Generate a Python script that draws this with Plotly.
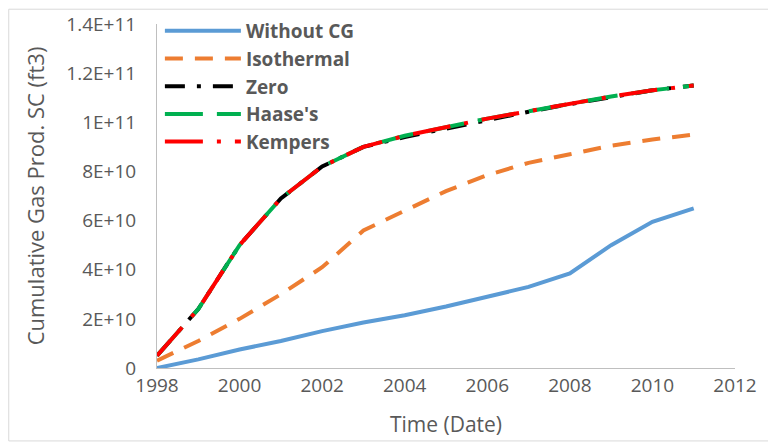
import plotly.graph_objects as go

years = [1998, 1999, 2000, 2001, 2002, 2003, 2004, 2005, 2006, 2007, 2008, 2009, 2010, 2011]

without_cg = [0, 3.5e9, 7.5e9, 1.1e10, 1.5e10, 1.85e10, 2.15e10, 2.5e10, 2.9e10, 3.3e10, 3.85e10, 5.0e10, 5.95e10, 6.5e10]
isothermal = [3e9, 1.1e10, 2.0e10, 3.0e10, 4.1e10, 5.6e10, 6.4e10, 7.2e10, 7.85e10, 8.35e10, 8.7e10, 9.05e10, 9.3e10, 9.5e10]
zero = [5e9, 2.4e10, 5.0e10, 6.9e10, 8.2e10, 9.0e10, 9.4e10, 9.75e10, 1.012e11, 1.043e11, 1.074e11, 1.104e11, 1.13e11, 1.15e11]
haase = [5e9, 2.4e10, 5.0e10, 6.9e10, 8.2e10, 9.0e10, 9.45e10, 9.8e10, 1.015e11, 1.045e11, 1.075e11, 1.105e11, 1.13e11, 1.15e11]
kempers = [5e9, 2.4e10, 5.0e10, 6.9e10, 8.2e10, 9.0e10, 9.45e10, 9.8e10, 1.015e11, 1.045e11, 1.075e11, 1.105e11, 1.13e11, 1.15e11]

x_ticks = [1998, 2000, 2002, 2004, 2006, 2008, 2010, 2012]
y_ticks = [0, 2e10, 4e10, 6e10, 8e10, 1e11, 1.2e11, 1.4e11]
y_tick_text = ["0", "2E+10", "4E+10", "6E+10", "8E+10", "1E+11", "1.2E+11", "1.4E+11"]

series = [
    ("Without CG", without_cg, "#5B9BD5", "solid"),
    ("Isothermal", isothermal, "#ED7D31", "18px,12px"),
    ("Zero", zero, "#000000", "20px,12px,4px,12px"),
    ("Haase's", haase, "#00B050", "38px,14px"),
    ("Kempers", kempers, "#FF0000", "38px,14px,4px,14px"),
]

fig = go.Figure()
for name, vals, color, dash in series:
    fig.add_trace(go.Scatter(
        x=years, y=vals, name=name, mode="lines",
        line=dict(color=color, width=4, dash=dash),
    ))

TXT = "#595959"
fig.update_layout(
    width=768, height=444,
    margin=dict(l=157, r=33, t=20, b=76),
    paper_bgcolor="white", plot_bgcolor="white",
    font=dict(family="Open Sans", color=TXT, size=19),
    showlegend=True,
    legend=dict(
        x=0.005, y=1.035, xanchor="left", yanchor="top",
        bgcolor="rgba(0,0,0,0)",
        font=dict(size=19, color=TXT, weight="bold"),
        traceorder="normal",
        itemwidth=76,
    ),
    xaxis=dict(
        range=[1998, 2012], tickvals=x_ticks, ticktext=[str(v) for v in x_ticks],
        showgrid=False, zeroline=False, showline=True, linecolor="#BFBFBF", linewidth=1,
        ticks="", tickfont=dict(size=19, color=TXT), ticklabelstandoff=0,
        title=dict(text="Time (Date)", font=dict(size=21, color=TXT), standoff=20),
    ),
    yaxis=dict(
        range=[0, 1.4e11], tickvals=y_ticks, ticktext=y_tick_text,
        showgrid=False, zeroline=False, showline=True, linecolor="#BFBFBF", linewidth=1,
        ticks="", tickfont=dict(size=19, color=TXT), ticklabelstandoff=16,
        title=dict(text="Cumulative Gas Prod. SC (ft3)", font=dict(size=22, color=TXT), standoff=15),
    ),
    shapes=[dict(
        type="rect", xref="paper", yref="paper",
        x0=-0.2565, x1=1.12, y0=-0.212, y1=1.043,
        line=dict(color="#D9D9D9", width=1), fillcolor="rgba(0,0,0,0)", layer="below",
    )],
)

fig.write_html("out.html")
